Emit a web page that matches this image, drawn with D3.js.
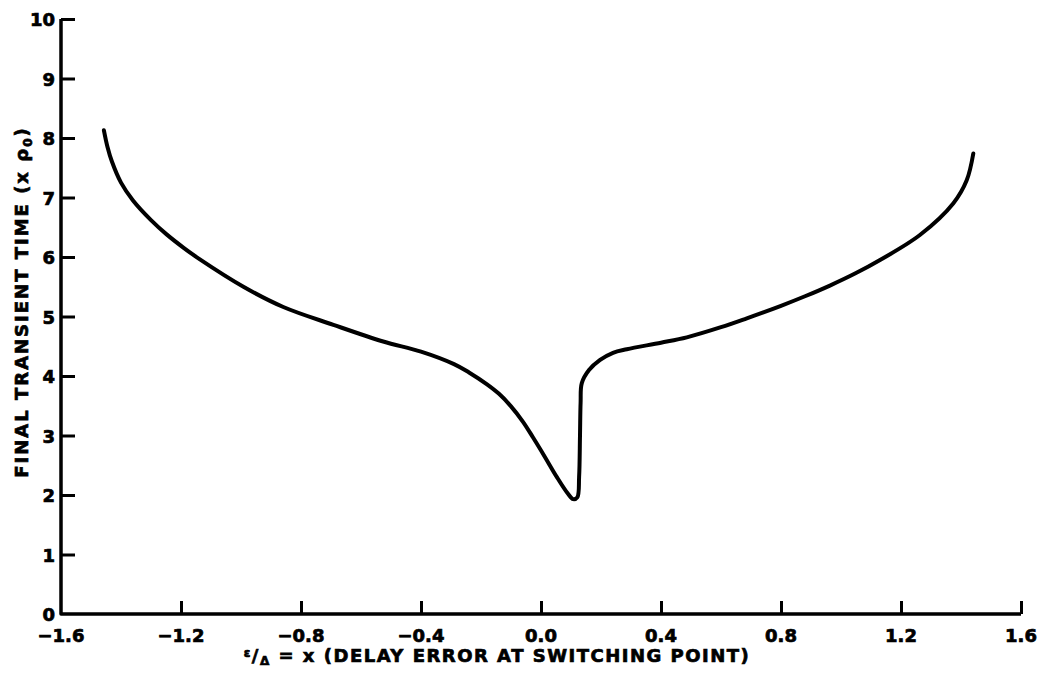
<!DOCTYPE html>
<html>
<head>
<meta charset="utf-8">
<script src="https://cdn.jsdelivr.net/npm/d3@7"></script>
<style>
  body { margin: 0; background: #fff; }
  text { font-family: "DejaVu Sans", sans-serif; font-weight: bold; fill: #000; stroke: #000; stroke-width: 0.7px; }
</style>
</head>
<body>
<div id="chart"></div>
<script>
// curve: delay error x vs final transient time (x rho0)
var delayError = [-1.457, -1.445, -1.43, -1.40, -1.36, -1.30, -1.248, -1.19, -1.137, -0.992, -0.859,
                  -0.692, -0.526, -0.40, -0.29, -0.24, -0.18, -0.14, -0.10, -0.06, -0.027, 0.013,
                  0.053, 0.09, 0.107, 0.121, 0.127, 0.130, 0.132, 0.136, 0.16, 0.197, 0.24, 0.286,
                  0.40, 0.486, 0.60, 0.686, 0.80, 0.88, 0.963, 1.05, 1.13, 1.263, 1.374, 1.419, 1.441];
var transientTime = [8.13, 7.85, 7.60, 7.25, 6.95, 6.62, 6.38, 6.15, 5.96, 5.50, 5.16,
                     4.86, 4.58, 4.41, 4.20, 4.06, 3.86, 3.70, 3.49, 3.23, 2.97, 2.64,
                     2.30, 2.02, 1.93, 1.96, 2.30, 3.00, 3.55, 3.88, 4.10, 4.27, 4.39, 4.45,
                     4.56, 4.65, 4.82, 4.97, 5.18, 5.34, 5.52, 5.73, 5.95, 6.37, 6.90, 7.29, 7.74];
var xTicks = [-1.6, -1.2, -0.8, -0.4, 0.0, 0.4, 0.8, 1.2, 1.6];
var xTickLabels = ["\u22121.6", "\u22121.2", "\u22120.8", "\u22120.4", "0.0", "0.4", "0.8", "1.2", "1.6"];
var yTicks = [0, 1, 2, 3, 4, 5, 6, 7, 8, 9, 10];

var width = 1041, height = 677;
var margin = {top: 19, right: 20, bottom: 63, left: 61};

var svg = d3.select("#chart").append("svg")
    .attr("width", width)
    .attr("height", height);

var x = d3.scaleLinear().domain([-1.6, 1.6]).range([margin.left, width - margin.right]);
var y = d3.scaleLinear().domain([0, 10]).range([height - margin.bottom, margin.top]);

// axes: thick lines, ticks pointing inward
var xAxis = d3.axisBottom(x)
    .tickValues(xTicks.slice(1))
    .tickSize(-13)
    .tickFormat("");
var yAxis = d3.axisLeft(y)
    .tickValues(yTicks.slice(1))
    .tickSize(-14)
    .tickFormat("");

var gx = svg.append("g")
    .attr("transform", "translate(0," + y(0) + ")")
    .call(xAxis);
var gy = svg.append("g")
    .attr("transform", "translate(" + x(-1.6) + ",0)")
    .call(yAxis);

[gx, gy].forEach(function(g) {
    g.select(".domain").remove();
    g.selectAll(".tick line").attr("stroke", "#000").attr("stroke-width", 3);
});

svg.append("path")
    .attr("d", "M" + x(-1.6) + "," + y(10) + "V" + y(0) + "H" + x(1.6))
    .attr("fill", "none")
    .attr("stroke", "#000")
    .attr("stroke-width", 3.5)
    .attr("stroke-linejoin", "round");

// tick labels
svg.append("g").selectAll("text")
    .data(xTicks)
    .enter().append("text")
    .attr("x", function(d) { return x(d); })
    .attr("y", y(0) + 28)
    .attr("text-anchor", "middle")
    .attr("font-size", 18)
    .text(function(d, i) { return xTickLabels[i]; });

svg.append("g").selectAll("text")
    .data(yTicks)
    .enter().append("text")
    .attr("x", x(-1.6) - 6)
    .attr("y", function(d) { return y(d) + 7; })
    .attr("text-anchor", "end")
    .attr("font-size", 18)
    .text(function(d) { return d; });

// axis titles
var xt = svg.append("text")
    .attr("x", 497)
    .attr("y", 662)
    .attr("text-anchor", "middle")
    .attr("font-size", 18)
    .attr("letter-spacing", 1.5);
xt.append("tspan").attr("font-size", 12).attr("dy", -5).text("\u03b5");
xt.append("tspan").attr("font-size", 18).attr("dy", 5).text("/");
xt.append("tspan").attr("font-size", 12).attr("dy", 3).text("\u0394");
xt.append("tspan").attr("dy", -3).text(" = x (DELAY ERROR AT SWITCHING POINT)");

var yt = svg.append("text")
    .attr("transform", "translate(28,302) rotate(-90)")
    .attr("text-anchor", "middle")
    .attr("font-size", 18)
    .attr("letter-spacing", 2);
yt.append("tspan").text("FINAL TRANSIENT TIME (x \u03c1");
yt.append("tspan").attr("font-size", 12).attr("dy", 4).text("0");
yt.append("tspan").attr("dy", -4).text(")");

// the curve
var pts = delayError.map(function(d, i) { return [d, transientTime[i]]; });
var line = d3.line()
    .x(function(d) { return x(d[0]); })
    .y(function(d) { return y(d[1]); })
    .curve(d3.curveCatmullRom.alpha(0.5));

svg.append("path")
    .datum(pts)
    .attr("d", line)
    .attr("fill", "none")
    .attr("stroke", "#000")
    .attr("stroke-width", 4)
    .attr("stroke-linecap", "round")
    .attr("stroke-linejoin", "round");
</script>
</body>
</html>
